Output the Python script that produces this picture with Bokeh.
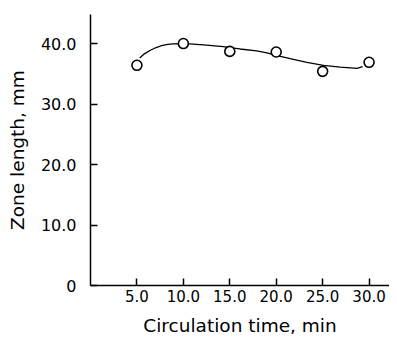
from bokeh.plotting import figure
from bokeh.models import Range1d, FixedTicker
from bokeh.embed import file_html
from bokeh.resources import INLINE

# measured points
time_min = [5.0, 10.0, 15.0, 20.0, 25.0, 30.0]
zone_len = [36.4, 40.0, 38.7, 38.6, 35.4, 36.9]

# smooth fitted curve
curve_x = [5.3, 5.8, 6.4, 7.0, 7.65, 8.3, 8.9, 10.0, 10.7, 12.5, 14.3, 15.2, 16.1, 17.9, 19.0, 20.1,
           21.5, 23.3, 25.1, 26.9, 28.7, 29.3]
curve_y = [37.6, 38.3, 38.85, 39.3, 39.65, 39.85, 39.95, 40.0, 39.95, 39.75, 39.5, 39.3, 39.1, 38.8,
           38.45, 38.0, 37.5, 36.9, 36.4, 36.1, 35.9, 36.2]

x_ticks = [5, 10, 15, 20, 25, 30]
x_tick_labels = ["5.0", "10.0", "15.0", "20.0", "25.0", "30.0"]
y_ticks = [0, 10, 20, 30, 40]
y_tick_labels = ["0", "10.0", "20.0", "30.0", "40.0"]

FONT = "DejaVu Sans"

p = figure(width=389, height=340, output_backend="svg", toolbar_location=None,
           x_range=Range1d(0, 32.2), y_range=Range1d(0, 44.8),
           min_border_left=90, min_border_top=14, min_border_right=0, min_border_bottom=55)
p.outline_line_color = None
p.grid.visible = False
p.background_fill_color = "white"

p.line(curve_x, curve_y, line_color="black", line_width=1.3)
p.scatter(time_min, zone_len, size=10, marker="circle", fill_color="white",
          line_color="black", line_width=1.6)

for ax in (p.xaxis[0], p.yaxis[0]):
    ax.axis_line_color = "black"
    ax.axis_line_width = 1.5
    ax.major_tick_in = 7
    ax.major_tick_out = 0
    ax.minor_tick_in = 0
    ax.minor_tick_out = 0
    ax.major_tick_line_color = "black"
    ax.major_tick_line_width = 1.5
    ax.major_label_text_font = FONT
    ax.major_label_text_color = "black"
    ax.axis_label_text_font = FONT
    ax.axis_label_text_font_size = "18.5px"
    ax.axis_label_text_font_style = "normal"
    ax.axis_label_text_color = "black"

p.xaxis.major_label_text_font_size = "15px"
p.yaxis.major_label_text_font_size = "16px"
p.xaxis.ticker = FixedTicker(ticks=x_ticks)
p.xaxis.major_label_overrides = {t: l for t, l in zip(x_ticks, x_tick_labels)}
p.yaxis.ticker = FixedTicker(ticks=y_ticks)
p.yaxis.major_label_overrides = {t: l for t, l in zip(y_ticks, y_tick_labels)}
p.xaxis.major_label_standoff = 4
p.yaxis.major_label_standoff = 14
p.xaxis.axis_label = "Circulation time, min"
p.yaxis.axis_label = "Zone length, mm"
p.xaxis.axis_label_standoff = 10
p.yaxis.axis_label_standoff = 10

open("out.html", "w").write(file_html(p, INLINE))
